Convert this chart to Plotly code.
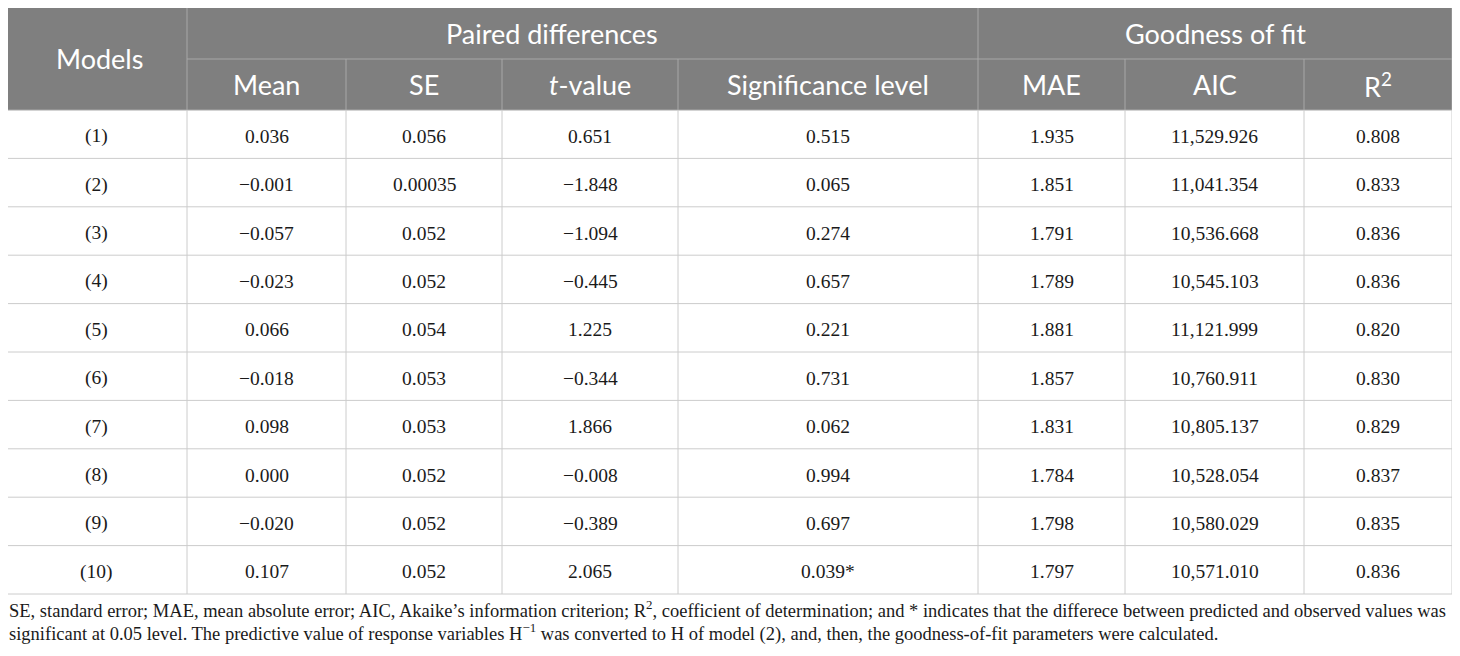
import plotly.graph_objects as go

# table content
models = ["(1)", "(2)", "(3)", "(4)", "(5)", "(6)", "(7)", "(8)", "(9)", "(10)"]
mean = ["0.036", "−0.001", "−0.057", "−0.023", "0.066", "−0.018", "0.098", "0.000", "−0.020", "0.107"]
se = ["0.056", "0.00035", "0.052", "0.052", "0.054", "0.053", "0.053", "0.052", "0.052", "0.052"]
t_value = ["0.651", "−1.848", "−1.094", "−0.445", "1.225", "−0.344", "1.866", "−0.008", "−0.389", "2.065"]
sig_level = ["0.515", "0.065", "0.274", "0.657", "0.221", "0.731", "0.062", "0.994", "0.697", "0.039*"]
mae = ["1.935", "1.851", "1.791", "1.789", "1.881", "1.857", "1.831", "1.784", "1.798", "1.797"]
aic = ["11,529.926", "11,041.354", "10,536.668", "10,545.103", "11,121.999",
       "10,760.911", "10,805.137", "10,528.054", "10,580.029", "10,571.010"]
r2 = ["0.808", "0.833", "0.836", "0.836", "0.820", "0.830", "0.829", "0.837", "0.835", "0.836"]

group_headers = ["Paired differences", "Goodness of fit"]
sub_headers = ["Mean", "SE", "<i>t</i>-value", "Significance level", "MAE", "AIC", "R<sup>2</sup>"]

footnote = [
    "SE, standard error; MAE, mean absolute error; AIC, Akaike’s information criterion; R<sup>2</sup>, "
    "coefficient of determination; and * indicates that the differece between predicted and observed values was",
    "significant at 0.05 level. The predictive value of response variables H<sup>−1</sup> was converted "
    "to H of model (2), and, then, the goodness-of-fit parameters were calculated.",
]

columns = [models, mean, se, t_value, sig_level, mae, aic, r2]

# geometry (pixels of the page; the page body has an 8px margin)
col_edges = [6, 187, 346, 502, 678, 978, 1125, 1304, 1452]
top, mid, head_bot = 7, 59, 110
row_h = 48.4
n_rows = len(models)
bottom = head_bot + row_h * n_rows
pd_shift = -31  # "Paired differences" sits left of its span's centre

head_bg = "#7f7f7f"
head_line = "#a8a8a8"
body_line = "#cccccc"
head_font = dict(family="Lato", size=27, color="white")
body_font = dict(family="Liberation Serif", size=19.5, color="#1a1a1a")

fig = go.Figure()
shapes = []
annotations = []

# header block
shapes.append(dict(type="rect", x0=col_edges[0], x1=col_edges[-1], y0=top, y1=head_bot,
                   fillcolor=head_bg, line_width=0, layer="below"))
shapes.append(dict(type="line", x0=col_edges[1], x1=col_edges[-1], y0=mid, y1=mid,
                   line=dict(color=head_line, width=1)))
for x in [col_edges[1], col_edges[5]]:
    shapes.append(dict(type="line", x0=x, x1=x, y0=top, y1=mid, line=dict(color=head_line, width=1)))
for x in col_edges[1:-1]:
    shapes.append(dict(type="line", x0=x, x1=x, y0=mid, y1=head_bot, line=dict(color=head_line, width=1)))
shapes.append(dict(type="rect", x0=col_edges[0], x1=col_edges[-1], y0=top, y1=head_bot,
                   line=dict(color=head_line, width=1)))

annotations.append(dict(x=(col_edges[0] + col_edges[1]) / 2 + 3, y=(top + head_bot) / 2, text="Models",
                        font=head_font))
annotations.append(dict(x=(col_edges[1] + col_edges[5]) / 2 + pd_shift, y=(top + mid) / 2,
                        text=group_headers[0], font=head_font))
annotations.append(dict(x=(col_edges[5] + col_edges[-1]) / 2, y=(top + mid) / 2, text=group_headers[1],
                        font=head_font))
for i, h in enumerate(sub_headers):
    annotations.append(dict(x=(col_edges[i + 1] + col_edges[i + 2]) / 2, y=(mid + head_bot) / 2,
                            text=h, font=head_font))

# body grid
for r in range(1, n_rows + 1):
    y = head_bot + row_h * r
    shapes.append(dict(type="line", x0=col_edges[0], x1=col_edges[-1], y0=y, y1=y,
                       line=dict(color=body_line, width=1)))
for x in col_edges:
    shapes.append(dict(type="line", x0=x, x1=x, y0=head_bot, y1=bottom,
                       line=dict(color=body_line, width=1)))

# body text
for c, col in enumerate(columns):
    xc = (col_edges[c] + col_edges[c + 1]) / 2
    for r, val in enumerate(col):
        annotations.append(dict(x=xc, y=head_bot + row_h * (r + 0.5), yshift=-2, text=val,
                                font=body_font))

# footnote (anchor must stay inside the axis range, so nudge with xshift)
for i, line in enumerate(footnote):
    annotations.append(dict(x=10, xshift=-3, y=609 + 23 * i, text=line, xanchor="left",
                            font=dict(family="Liberation Serif", size=18.5, color="#1a1a1a")))

for a in annotations:
    a.update(showarrow=False, xref="x", yref="y")
    a.setdefault("xanchor", "center")
    a.setdefault("yanchor", "middle")

fig.update_layout(
    width=1452, height=648,
    margin=dict(l=0, r=0, t=0, b=0),
    paper_bgcolor="white", plot_bgcolor="white",
    xaxis=dict(range=[8, 1460], visible=False, fixedrange=True),
    yaxis=dict(range=[656, 8], visible=False, fixedrange=True),
    shapes=shapes, annotations=annotations,
    showlegend=False,
)

fig.write_html("out.html")
